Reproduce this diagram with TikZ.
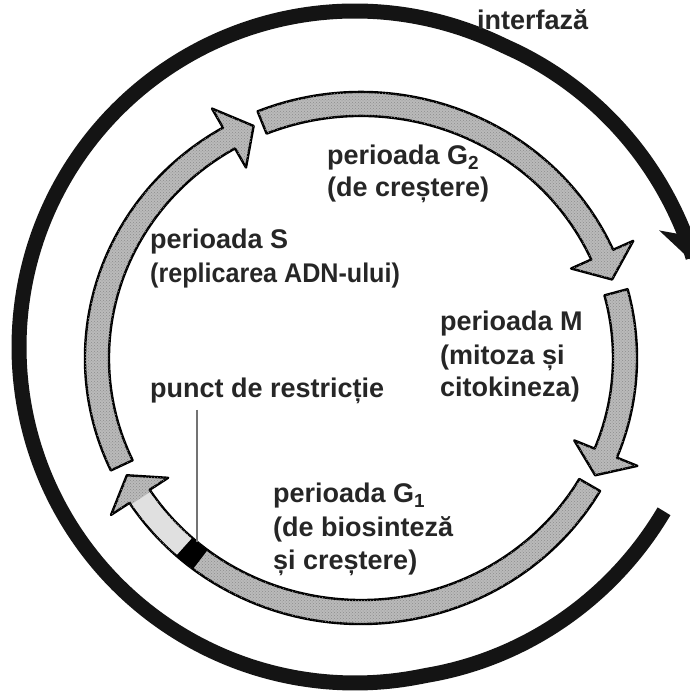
\documentclass[tikz,border=0pt]{standalone}
\usepackage{fontspec}
\setmainfont{Liberation Sans}
\usetikzlibrary{arrows.meta,patterns}
\def\rxo{276}\def\ryo{266}
\def\rxi{252}\def\ryi{242}
\def\rxm{264}\def\rym{254}
\def\rxb{298}\def\ryb{288}
\def\rxc{230}\def\ryc{220}
\newcommand\ringarrow[4][]{%
  \path[ringband,#1] ({cos(#2)*\rxo},{sin(#2)*\ryo})
    arc[start angle=#2,end angle=#3,x radius=\rxo,y radius=\ryo]
    -- ({cos(#3)*\rxb},{sin(#3)*\ryb})
    -- ({cos(#4)*\rxm},{sin(#4)*\rym})
    -- ({cos(#3)*\rxc},{sin(#3)*\ryc})
    -- ({cos(#3)*\rxi},{sin(#3)*\ryi})
    arc[start angle=#3,end angle=#2,x radius=\rxi,y radius=\ryi] -- cycle;}
\begin{document}
\begin{tikzpicture}[x=1pt,y=1pt,
  ringband/.style={draw=black, line width=2.4pt, line join=round, fill=black!27,
     postaction={pattern=crosshatch dots, pattern color=black!45}},
  lbl/.style={anchor=base west, inner sep=0pt, font=\fontsize{27}{33}\selectfont\bfseries, text=black!85},
  outerarc/.style={line width=15pt, draw=black!92}]
\useasboundingbox (0,0) rectangle (689,692);
\fill[white] (0,0) rectangle (689,692);
% outer interphase arc
\begin{scope}[shift={(355,345)}]
\draw[outerarc, -{Stealth[length=42pt,width=48pt,inset=12pt]}]
  plot[domain=-28:-346.3, samples=200, smooth]
  (\x:{336+14*max(0,1-(-28-\x)/50)+14*max(0,1-(\x+346.3)/50)});
\end{scope}
% inner cycle
\begin{scope}[shift={(361,334)}]
\ringarrow{205}{120}{114}   % S
\ringarrow{112}{24}{18}     % G2
\ringarrow{15}{-22}{-27.5}  % M
\ringarrow{-30}{-147}{-152.5} % G1
% lighter stretch after the restriction point
\fill[black!12] ({cos(-132)*(\rxo-1.3)},{sin(-132)*(\ryo-1.3)})
  arc[start angle=-132,end angle=-146.5,x radius=\rxo-1.3,y radius=\ryo-1.3]
  -- ({cos(-146.5)*(\rxi+1.3)},{sin(-146.5)*(\ryi+1.3)})
  arc[start angle=-146.5,end angle=-132,x radius=\rxi+1.3,y radius=\ryi+1.3] -- cycle;
\fill[black] ({cos(-127.5)*\rxo},{sin(-127.5)*\ryo})
  arc[start angle=-127.5,end angle=-132,x radius=\rxo,y radius=\ryo]
  -- ({cos(-132)*\rxi},{sin(-132)*\ryi})
  arc[start angle=-132,end angle=-127.5,x radius=\rxi,y radius=\ryi] -- cycle;
\end{scope}
\coordinate (mark) at (197,150);
\coordinate (prl) at (197,282);
\draw[line width=1.5pt, black!55] (prl) -- (mark);
% labels
\node[lbl] (inter) at (477,662) {interfază};
\node[lbl] (g2a) at (327,527) {perioada G\textsubscript{2}};
\node[lbl] (g2b) at (327,495) {(de creștere)};
\node[lbl] (sa) at (150,443) {perioada S};
\node[lbl] (sb) at (150,409) {\scalebox{0.93}[1]{(replicarea ADN-ului)}};
\node[lbl] (ma) at (440,361) {perioada M};
\node[lbl] (mb) at (440,327) {(mitoza și};
\node[lbl] (mc) at (440,295) {citokineza)};
\node[lbl] (pr) at (150,294) {punct de restricție};
\node[lbl] (g1a) at (273,189) {perioada G\textsubscript{1}};
\node[lbl] (g1b) at (273,155) {(de biosinteză};
\node[lbl] (g1c) at (273,122) {și creștere)};
\end{tikzpicture}
\end{document}
